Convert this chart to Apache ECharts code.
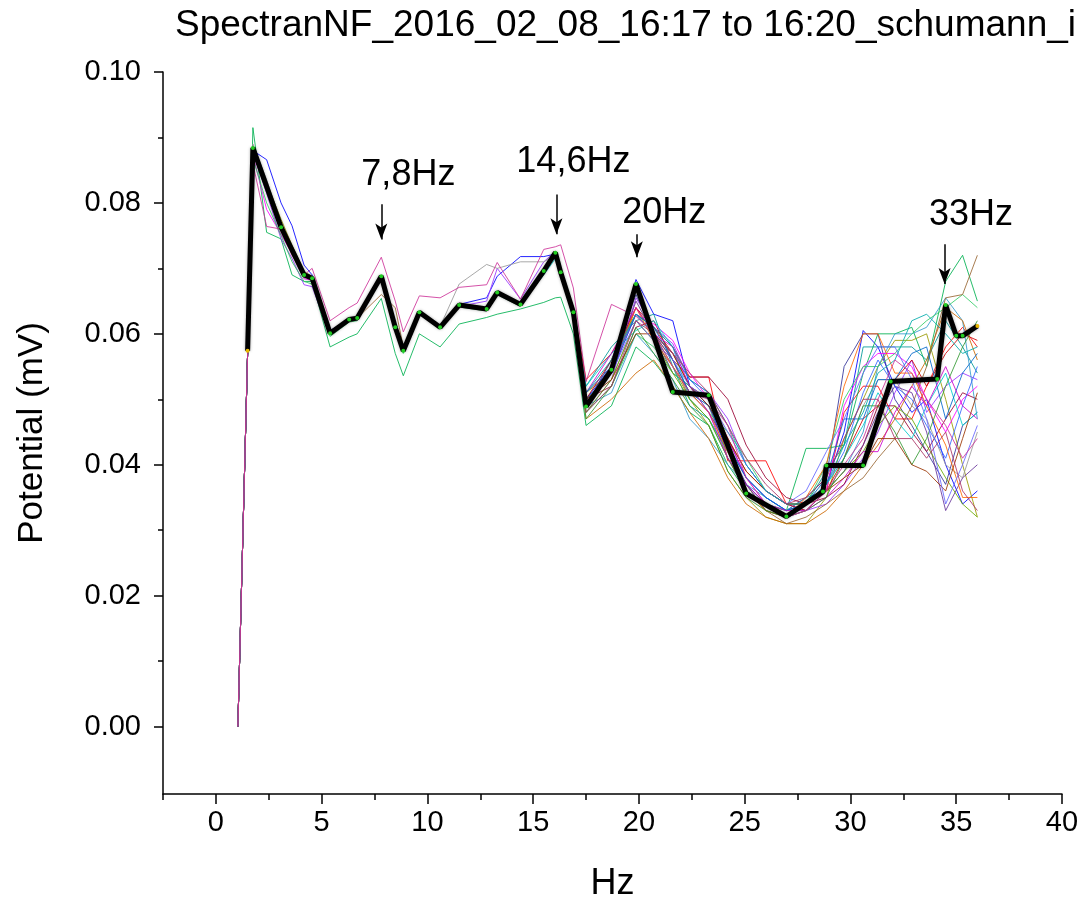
<!DOCTYPE html>
<html>
<head>
<meta charset="utf-8">
<script src="https://cdn.jsdelivr.net/npm/echarts@6/dist/echarts.min.js"></script>
<style>
  html, body { margin: 0; padding: 0; background: #ffffff; }
  #chart { width: 1086px; height: 907px; }
</style>
</head>
<body>
<div id="chart"></div>
<script>
// Frequency grid (Hz) shared by the individual spectra
const freqHz = [1.04, 1.5, 1.75, 2.4, 3.08, 3.6, 4.17, 4.55, 5.4, 6.3, 6.68, 7.82, 8.48, 8.86, 9.62, 10.6,
  11.5, 12.8, 13.3, 14.4, 15.5, 16.05, 16.3, 16.9, 17.5, 18.7, 19.86, 20.7, 21.6, 22.4, 23.3, 24.2,
  25.07, 26.0, 26.97, 27.9, 28.86, 29.7, 30.6, 31.3, 32.1, 32.9, 33.6, 34.5, 35.3, 36.0];

// Individual spectra (mV), one per scan
const scan01 = [0, 0.057, 0.0885, 0.0825, 0.0765, 0.0728, 0.069, 0.0686, 0.0602, 0.0622, 0.0625, 0.0688, 0.0612, 0.0576, 0.0633, 0.0612, 0.0644, 0.0638, 0.0662, 0.0646, 0.0695, 0.0724, 0.0698, 0.0640,
  0.053, 0.057, 0.063, 0.061, 0.058, 0.0534, 0.0534, 0.0406, 0.0406, 0.0406, 0.034, 0.034, 0.036, 0.048, 0.052, 0.052, 0.047, 0.047, 0.052, 0.058, 0.061, 0.058];
const scan02 = [0, 0.057, 0.088, 0.0866, 0.080, 0.0765, 0.0705, 0.069, 0.0605, 0.0622, 0.0624, 0.0686, 0.061, 0.0575, 0.0632, 0.061, 0.0645, 0.0655, 0.0688, 0.0718, 0.0718, 0.0722, 0.0690, 0.0625,
  0.050, 0.055, 0.0683, 0.063, 0.062, 0.052, 0.049, 0.042, 0.037, 0.033, 0.032, 0.034, 0.037, 0.045, 0.0605, 0.058, 0.052, 0.048, 0.050, 0.040, 0.034, 0.036];
const scan03 = [0, 0.057, 0.0915, 0.0755, 0.0745, 0.069, 0.068, 0.068, 0.058, 0.0595, 0.060, 0.0654, 0.057, 0.0536, 0.060, 0.058, 0.0615, 0.0625, 0.063, 0.0638, 0.0648, 0.0655, 0.0656, 0.0600,
  0.046, 0.049, 0.058, 0.0557, 0.052, 0.048, 0.046, 0.040, 0.036, 0.034, 0.033, 0.0425, 0.0425, 0.043, 0.054, 0.060, 0.060, 0.061, 0.055, 0.068, 0.072, 0.065];
const scan04 = [0, 0.057, 0.086, 0.0764, 0.076, 0.072, 0.069, 0.070, 0.062, 0.064, 0.0647, 0.0717, 0.065, 0.0603, 0.0658, 0.0655, 0.0671, 0.0675, 0.0709, 0.0653, 0.0729, 0.0733, 0.0736, 0.0670,
  0.0527, 0.0645, 0.0627, 0.060, 0.055, 0.051, 0.050, 0.046, 0.038, 0.034, 0.032, 0.033, 0.036, 0.040, 0.044, 0.050, 0.056, 0.054, 0.050, 0.046, 0.041, 0.044];
const scan05 = [0, 0.057, 0.0875, 0.083, 0.0775, 0.0735, 0.0695, 0.0688, 0.0603, 0.0621, 0.0623, 0.0686, 0.0611, 0.0575, 0.0632, 0.0611, 0.0643, 0.0637, 0.0661, 0.0644, 0.0694, 0.0722, 0.0692, 0.0630,
  0.051, 0.054, 0.064, 0.060, 0.055, 0.050, 0.046, 0.039, 0.035, 0.032, 0.031, 0.031, 0.035, 0.044, 0.050, 0.055, 0.059, 0.059, 0.060, 0.050, 0.040, 0.032];
const scan06 = [0, 0.057, 0.0882, 0.0828, 0.0768, 0.073, 0.0692, 0.0686, 0.0600, 0.0621, 0.0623, 0.0687, 0.0609, 0.0573, 0.0632, 0.0609, 0.0643, 0.0637, 0.0662, 0.0644, 0.0697, 0.0725, 0.0695, 0.0628,
  0.049, 0.056, 0.066, 0.060, 0.054, 0.052, 0.049, 0.044, 0.038, 0.035, 0.033, 0.035, 0.038, 0.055, 0.060, 0.060, 0.050, 0.046, 0.042, 0.037, 0.046, 0.048];
const scan07 = [0, 0.057, 0.0878, 0.0815, 0.0745, 0.0715, 0.0675, 0.0672, 0.0598, 0.0620, 0.0622, 0.0686, 0.0608, 0.0572, 0.0631, 0.0609, 0.0642, 0.0650, 0.0700, 0.0653, 0.0710, 0.0726, 0.0700, 0.0640,
  0.048, 0.053, 0.0655, 0.061, 0.0585, 0.053, 0.051, 0.047, 0.040, 0.036, 0.034, 0.033, 0.034, 0.037, 0.041, 0.045, 0.051, 0.056, 0.048, 0.052, 0.054, 0.053];
const scan08 = [0, 0.057, 0.0884, 0.0826, 0.0764, 0.0729, 0.0691, 0.0686, 0.0601, 0.0622, 0.0624, 0.0688, 0.0610, 0.0574, 0.0633, 0.0610, 0.0644, 0.0638, 0.0663, 0.0645, 0.0696, 0.0724, 0.0694, 0.0633,
  0.050, 0.052, 0.061, 0.062, 0.056, 0.0534, 0.0534, 0.050, 0.043, 0.038, 0.035, 0.034, 0.035, 0.037, 0.043, 0.049, 0.049, 0.045, 0.042, 0.047, 0.051, 0.050];
const scan09 = [0, 0.057, 0.0886, 0.0822, 0.0760, 0.0726, 0.0688, 0.0684, 0.0600, 0.0623, 0.0625, 0.0689, 0.0611, 0.0575, 0.0634, 0.0611, 0.0645, 0.0639, 0.0664, 0.0646, 0.0697, 0.0723, 0.0693, 0.0632,
  0.052, 0.058, 0.062, 0.063, 0.055, 0.049, 0.047, 0.041, 0.036, 0.034, 0.033, 0.034, 0.039, 0.043, 0.058, 0.058, 0.058, 0.058, 0.056, 0.062, 0.058, 0.054];
const scan10 = [0, 0.057, 0.0879, 0.0824, 0.0762, 0.0727, 0.0689, 0.0684, 0.0600, 0.0621, 0.0623, 0.0687, 0.0609, 0.0573, 0.0632, 0.0609, 0.0643, 0.0637, 0.0662, 0.0644, 0.0695, 0.0723, 0.0693, 0.0632,
  0.049, 0.051, 0.060, 0.057, 0.053, 0.047, 0.044, 0.040, 0.037, 0.035, 0.033, 0.035, 0.036, 0.039, 0.045, 0.055, 0.060, 0.060, 0.061, 0.0655, 0.062, 0.047];
const scan11 = [0, 0.057, 0.0887, 0.0829, 0.0766, 0.0730, 0.0692, 0.0687, 0.0602, 0.0623, 0.0625, 0.0689, 0.0611, 0.0575, 0.0634, 0.0611, 0.0645, 0.0639, 0.0664, 0.0646, 0.0697, 0.0725, 0.0695, 0.0634,
  0.047, 0.050, 0.054, 0.056, 0.052, 0.048, 0.044, 0.038, 0.034, 0.032, 0.031, 0.031, 0.033, 0.036, 0.040, 0.043, 0.047, 0.052, 0.056, 0.064, 0.062, 0.056];
const scan12 = [0, 0.057, 0.0873, 0.0790, 0.0752, 0.0722, 0.0684, 0.0682, 0.0599, 0.0620, 0.0622, 0.0686, 0.0609, 0.0573, 0.0632, 0.0609, 0.0643, 0.0637, 0.0662, 0.0644, 0.0695, 0.0723, 0.0693, 0.0632,
  0.049, 0.054, 0.063, 0.0615, 0.059, 0.054, 0.050, 0.044, 0.038, 0.034, 0.032, 0.033, 0.036, 0.049, 0.055, 0.057, 0.057, 0.055, 0.050, 0.045, 0.050, 0.052];
const scan13 = [0, 0.057, 0.0890, 0.0835, 0.0770, 0.0732, 0.0693, 0.0688, 0.0603, 0.0623, 0.0625, 0.0689, 0.0611, 0.0575, 0.0634, 0.0611, 0.0676, 0.0706, 0.0700, 0.0710, 0.0710, 0.0720, 0.0690, 0.0630,
  0.050, 0.053, 0.062, 0.059, 0.055, 0.051, 0.049, 0.041, 0.036, 0.034, 0.033, 0.034, 0.037, 0.041, 0.049, 0.053, 0.053, 0.049, 0.047, 0.040, 0.038, 0.045];
const scan14 = [0, 0.057, 0.0868, 0.0800, 0.0750, 0.0710, 0.0680, 0.0676, 0.0596, 0.0618, 0.0620, 0.0684, 0.0606, 0.0570, 0.0630, 0.0607, 0.0641, 0.0635, 0.0660, 0.0642, 0.0693, 0.0721, 0.0691, 0.0630,
  0.048, 0.052, 0.060, 0.058, 0.054, 0.052, 0.048, 0.045, 0.041, 0.036, 0.034, 0.034, 0.040, 0.050, 0.055, 0.055, 0.057, 0.060, 0.062, 0.064, 0.066, 0.064];
const scan15 = [0, 0.057, 0.0883, 0.0828, 0.0767, 0.0729, 0.0691, 0.0686, 0.0601, 0.0622, 0.0624, 0.0660, 0.0640, 0.0580, 0.0633, 0.0610, 0.0644, 0.0638, 0.0663, 0.0645, 0.0696, 0.0724, 0.0694, 0.0633,
  0.051, 0.055, 0.063, 0.060, 0.056, 0.050, 0.047, 0.042, 0.037, 0.033, 0.031, 0.032, 0.034, 0.036, 0.038, 0.041, 0.044, 0.049, 0.055, 0.0655, 0.066, 0.072];
const scan16 = [0, 0.057, 0.0881, 0.0827, 0.0764, 0.0728, 0.0690, 0.0685, 0.0601, 0.0622, 0.0624, 0.0688, 0.0610, 0.0574, 0.0633, 0.0610, 0.0644, 0.0638, 0.0663, 0.0645, 0.0696, 0.0724, 0.0694, 0.0633,
  0.050, 0.056, 0.064, 0.061, 0.057, 0.052, 0.050, 0.044, 0.039, 0.036, 0.034, 0.033, 0.036, 0.041, 0.047, 0.049, 0.053, 0.056, 0.052, 0.057, 0.060, 0.059];
const scan17 = [0, 0.057, 0.0884, 0.0825, 0.0763, 0.0728, 0.0690, 0.0685, 0.0601, 0.0622, 0.0624, 0.0688, 0.0610, 0.0574, 0.0633, 0.0610, 0.0644, 0.0638, 0.0663, 0.0645, 0.0690, 0.0715, 0.0700, 0.0620,
  0.052, 0.057, 0.0605, 0.062, 0.058, 0.050, 0.047, 0.042, 0.037, 0.034, 0.032, 0.034, 0.037, 0.041, 0.046, 0.051, 0.047, 0.044, 0.049, 0.054, 0.046, 0.048];
const scan18 = [0, 0.057, 0.0876, 0.0822, 0.0762, 0.0727, 0.0689, 0.0684, 0.0600, 0.0621, 0.0623, 0.0687, 0.0609, 0.0573, 0.0632, 0.0609, 0.0643, 0.0637, 0.0662, 0.0644, 0.0695, 0.0723, 0.0693, 0.0635,
  0.049, 0.054, 0.065, 0.060, 0.056, 0.051, 0.048, 0.043, 0.037, 0.034, 0.032, 0.033, 0.036, 0.039, 0.043, 0.048, 0.052, 0.051, 0.045, 0.033, 0.038, 0.040];
const scan19 = [0, 0.057, 0.0885, 0.0826, 0.0764, 0.0729, 0.0691, 0.0686, 0.0601, 0.0622, 0.0624, 0.0688, 0.0610, 0.0574, 0.0633, 0.0610, 0.0644, 0.0638, 0.0663, 0.0645, 0.0696, 0.0724, 0.0694, 0.0633,
  0.048, 0.053, 0.062, 0.059, 0.054, 0.050, 0.047, 0.041, 0.036, 0.033, 0.032, 0.034, 0.036, 0.039, 0.042, 0.046, 0.049, 0.047, 0.043, 0.038, 0.034, 0.032];
const scan20 = [0, 0.057, 0.0880, 0.0826, 0.0766, 0.0730, 0.0690, 0.0685, 0.0601, 0.0622, 0.0624, 0.0688, 0.0610, 0.0574, 0.0633, 0.0610, 0.0644, 0.0638, 0.0663, 0.0645, 0.0696, 0.0724, 0.0694, 0.0630,
  0.051, 0.055, 0.063, 0.060, 0.057, 0.053, 0.050, 0.043, 0.038, 0.035, 0.033, 0.034, 0.037, 0.042, 0.051, 0.056, 0.052, 0.050, 0.046, 0.041, 0.049, 0.055];
const scan21 = [0, 0.057, 0.0882, 0.0824, 0.0762, 0.0727, 0.0689, 0.0685, 0.0601, 0.0622, 0.0624, 0.0687, 0.0610, 0.0574, 0.0633, 0.0610, 0.0644, 0.0638, 0.0663, 0.0645, 0.0696, 0.0723, 0.0694, 0.0634,
  0.049, 0.055, 0.064, 0.059, 0.055, 0.051, 0.048, 0.042, 0.036, 0.033, 0.032, 0.035, 0.040, 0.052, 0.060, 0.060, 0.054, 0.054, 0.049, 0.043, 0.035, 0.035];
const scan22 = [0, 0.057, 0.0879, 0.0826, 0.0765, 0.0729, 0.0691, 0.0686, 0.0602, 0.0623, 0.0625, 0.0689, 0.0611, 0.0575, 0.0634, 0.0611, 0.0645, 0.0639, 0.0664, 0.0646, 0.0697, 0.0724, 0.0695, 0.0633,
  0.050, 0.054, 0.063, 0.061, 0.056, 0.051, 0.049, 0.043, 0.038, 0.035, 0.033, 0.034, 0.038, 0.047, 0.047, 0.053, 0.053, 0.057, 0.058, 0.047, 0.054, 0.057];
const scan23 = [0, 0.057, 0.0883, 0.0823, 0.0763, 0.0728, 0.0690, 0.0685, 0.0600, 0.0621, 0.0623, 0.0687, 0.0609, 0.0573, 0.0632, 0.0609, 0.0643, 0.0637, 0.0662, 0.0644, 0.0695, 0.0723, 0.0693, 0.0632,
  0.051, 0.057, 0.064, 0.060, 0.058, 0.052, 0.048, 0.041, 0.037, 0.034, 0.033, 0.033, 0.035, 0.038, 0.042, 0.042, 0.048, 0.052, 0.049, 0.055, 0.049, 0.047];
const scan24 = [0, 0.057, 0.0881, 0.0825, 0.0764, 0.0729, 0.0691, 0.0686, 0.0602, 0.0622, 0.0624, 0.0688, 0.0611, 0.0575, 0.0633, 0.0611, 0.0644, 0.0638, 0.0663, 0.0645, 0.0696, 0.0724, 0.0694, 0.0633,
  0.047, 0.052, 0.061, 0.057, 0.053, 0.049, 0.046, 0.039, 0.035, 0.033, 0.032, 0.033, 0.035, 0.041, 0.049, 0.049, 0.045, 0.040, 0.044, 0.052, 0.058, 0.062];
const scan25 = [0, 0.057, 0.0884, 0.0826, 0.0764, 0.0728, 0.0690, 0.0685, 0.0601, 0.0622, 0.0624, 0.0688, 0.0610, 0.0574, 0.0633, 0.0610, 0.0644, 0.0638, 0.0663, 0.0645, 0.0696, 0.0724, 0.0694, 0.0633,
  0.050, 0.053, 0.060, 0.060, 0.057, 0.052, 0.049, 0.044, 0.039, 0.036, 0.034, 0.034, 0.036, 0.038, 0.040, 0.044, 0.044, 0.040, 0.039, 0.036, 0.044, 0.051];
const scan26 = [0, 0.057, 0.0878, 0.0824, 0.0763, 0.0728, 0.0690, 0.0685, 0.0601, 0.0621, 0.0623, 0.0687, 0.0609, 0.0573, 0.0632, 0.0609, 0.0643, 0.0637, 0.0662, 0.0644, 0.0695, 0.0723, 0.0693, 0.0632,
  0.049, 0.054, 0.062, 0.059, 0.056, 0.052, 0.050, 0.045, 0.040, 0.036, 0.034, 0.036, 0.042, 0.047, 0.054, 0.058, 0.058, 0.053, 0.047, 0.034, 0.040, 0.046];
const scan27 = [0, 0.057, 0.0886, 0.0826, 0.0764, 0.0729, 0.0691, 0.0686, 0.0602, 0.0623, 0.0625, 0.0689, 0.0611, 0.0575, 0.0634, 0.0611, 0.0645, 0.0639, 0.0664, 0.0646, 0.0697, 0.0725, 0.0695, 0.0634,
  0.051, 0.056, 0.063, 0.061, 0.058, 0.053, 0.051, 0.046, 0.040, 0.036, 0.034, 0.034, 0.037, 0.043, 0.048, 0.054, 0.056, 0.062, 0.063, 0.060, 0.057, 0.058];
const scan28 = [0, 0.057, 0.0880, 0.0825, 0.0764, 0.0729, 0.0690, 0.0685, 0.0601, 0.0622, 0.0624, 0.0688, 0.0610, 0.0574, 0.0633, 0.0610, 0.0644, 0.0638, 0.0663, 0.0645, 0.0696, 0.0724, 0.0694, 0.0633,
  0.048, 0.052, 0.062, 0.060, 0.057, 0.054, 0.051, 0.046, 0.041, 0.037, 0.034, 0.035, 0.038, 0.044, 0.050, 0.050, 0.044, 0.044, 0.041, 0.045, 0.036, 0.033];

// Drawing order (later scans lie on top); the magenta scan is drawn last
const scans = [scan01, scan02, scan03, scan05, scan06, scan07, scan08, scan09, scan10, scan11,
  scan12, scan13, scan14, scan15, scan16, scan17, scan18, scan19, scan20, scan21,
  scan22, scan23, scan24, scan25, scan26, scan27, scan28, scan04];
const scanColors = ['#ff0000', '#0000ff', '#00b050', '#999900', '#333399', '#9933ff', '#990033', '#009999', '#3399cc', '#cc6600',
  '#ff00ff', '#999999', '#33cc66', '#996633', '#cc0000', '#00cccc', '#663399', '#66aa00', '#3366ff', '#ff6600',
  '#0066cc', '#cc00cc', '#339933', '#993300', '#6666ff', '#00aaaa', '#aa3366', '#cc3399'];

// Averaged spectrum (thick black trace)
const meanHz = [1.5, 1.75, 3.08, 4.17, 4.55, 5.4, 6.3, 6.68, 7.82, 8.48, 8.86, 9.62, 10.6, 11.5, 12.8, 13.3,
  14.4, 15.5, 16.05, 16.3, 16.9, 17.5, 18.7, 19.86, 21.6, 23.3, 25.07, 26.97, 28.7, 28.86, 30.6, 31.9,
  34.1, 34.5, 35.0, 35.3, 36.0];
const meanMv = [0.0574, 0.0884, 0.0763, 0.0690, 0.0685, 0.0601, 0.0622, 0.0624, 0.0688, 0.0610, 0.0574, 0.0633, 0.0610, 0.0644, 0.0638, 0.0663,
  0.0645, 0.0696, 0.0724, 0.0694, 0.0633, 0.0489, 0.0545, 0.0676, 0.0511, 0.0506, 0.0356, 0.0321, 0.0359, 0.0399, 0.0399, 0.0527,
  0.0531, 0.0644, 0.0597, 0.0597, 0.0612];

// Schumann resonance callouts
const peakText = ['7,8Hz', '14,6Hz', '20Hz', '33Hz'];
const arrowHz = [7.82, 16.1, 19.9, 34.45];
const arrowStartMv = [0.0798, 0.0813, 0.0752, 0.0737];
const arrowEndMv = [0.0744, 0.0752, 0.0717, 0.0676];
const textHz = [9.1, 16.9, 21.2, 35.7];
const textMv = [0.0843, 0.0862, 0.0785, 0.0782];

// Axis ticks
const xMajorTicks = [0, 5, 10, 15, 20, 25, 30, 35, 40];
const xMinorTicks = [-2.5, 2.5, 7.5, 12.5, 17.5, 22.5, 27.5, 32.5, 37.5];
const yMajorTicks = [0, 0.02, 0.04, 0.06, 0.08, 0.10];
const yMinorTicks = [0.01, 0.03, 0.05, 0.07, 0.09];

const FONT = 'Liberation Sans, Arial, sans-serif';
const X_MIN = -2.5, X_MAX = 40, Y_MIN = -0.0103, Y_MAX = 0.10;

const chart = echarts.init(document.getElementById('chart'), null, { renderer: 'canvas' });

const scanSeries = scans.map((s, k) => ({
  type: 'line',
  xAxisIndex: 0,
  yAxisIndex: 0,
  data: freqHz.map((f, i) => [f, s[i]]),
  showSymbol: false,
  symbol: 'none',
  silent: true,
  z: 2,
  lineStyle: { width: 1, color: scanColors[k], opacity: 0.85 }
}));

const meanSeries = {
  type: 'line',
  xAxisIndex: 0,
  yAxisIndex: 0,
  data: meanHz.map((f, i) => ({
    value: [f, meanMv[i]],
    itemStyle: (i === 0 || i === meanHz.length - 1) ? { color: '#e8b800' } : undefined
  })),
  symbol: 'circle',
  symbolSize: 4,
  showSymbol: true,
  silent: true,
  z: 5,
  itemStyle: { color: '#22cc22', borderWidth: 0 },
  lineStyle: { width: 5, color: '#000000', shadowBlur: 3, shadowColor: 'rgba(0,0,0,0.35)' },
  markLine: {
    silent: true,
    symbol: ['none', 'arrow'],
    symbolSize: [9, 16],
    label: { show: false },
    lineStyle: { color: '#000000', width: 1.5, type: 'solid' },
    data: arrowHz.map((h, i) => [
      { coord: [h, arrowStartMv[i]] },
      { coord: [h, arrowEndMv[i]] }
    ])
  },
  markPoint: {
    silent: true,
    symbol: 'rect',
    symbolSize: 1,
    itemStyle: { color: 'rgba(0,0,0,0)' },
    label: {
      show: true,
      position: 'inside',
      formatter: '{b}',
      color: '#000000',
      fontFamily: FONT,
      fontSize: 36
    },
    data: peakText.map((t, i) => ({ name: t, coord: [textHz[i], textMv[i]] }))
  }
};

const option = {
  animation: false,
  backgroundColor: '#ffffff',
  title: {
    text: 'SpectranNF_2016_02_08_16:17 to 16:20_schumann_i',
    left: 170,
    top: 2,
    textStyle: { fontFamily: FONT, fontSize: 37, fontWeight: 'normal', color: '#000000' }
  },
  grid: { left: 163, right: 24, top: 72, bottom: 110, containLabel: false },
  xAxis: [
    {
      type: 'value',
      min: X_MIN,
      max: X_MAX,
      position: 'bottom',
      name: 'Hz',
      nameLocation: 'middle',
      nameGap: 72,
      nameTextStyle: { fontFamily: FONT, fontSize: 36, color: '#000000' },
      axisLine: { show: true, onZero: false, lineStyle: { color: '#000000', width: 1.5 } },
      axisTick: { show: true, inside: false, length: 10, customValues: xMajorTicks, lineStyle: { color: '#000000', width: 1.5 } },
      axisLabel: { show: true, customValues: xMajorTicks, margin: 14, fontFamily: FONT, fontSize: 29, color: '#000000' },
      splitLine: { show: false }
    },
    {
      type: 'value',
      min: X_MIN,
      max: X_MAX,
      position: 'bottom',
      axisLine: { show: false, onZero: false },
      axisTick: { show: true, inside: false, length: 6, customValues: xMinorTicks, lineStyle: { color: '#000000', width: 1.5 } },
      axisLabel: { show: false },
      splitLine: { show: false }
    }
  ],
  yAxis: [
    {
      type: 'value',
      min: Y_MIN,
      max: Y_MAX,
      position: 'left',
      name: 'Potential (mV)',
      nameLocation: 'middle',
      nameRotate: 90,
      nameGap: 113,
      nameTextStyle: { fontFamily: FONT, fontSize: 35, color: '#000000' },
      axisLine: { show: true, onZero: false, lineStyle: { color: '#000000', width: 1.5 } },
      axisTick: { show: true, inside: false, length: 9, customValues: yMajorTicks, lineStyle: { color: '#000000', width: 1.5 } },
      axisLabel: {
        show: true, customValues: yMajorTicks, margin: 22, fontFamily: FONT, fontSize: 29, color: '#000000',
        formatter: v => v.toFixed(2)
      },
      splitLine: { show: false }
    },
    {
      type: 'value',
      min: Y_MIN,
      max: Y_MAX,
      position: 'left',
      axisLine: { show: false, onZero: false },
      axisTick: { show: true, inside: false, length: 5, customValues: yMinorTicks, lineStyle: { color: '#000000', width: 1.5 } },
      axisLabel: { show: false },
      splitLine: { show: false }
    }
  ],
  series: scanSeries.concat([meanSeries])
};

chart.setOption(option);
</script>
</body>
</html>
